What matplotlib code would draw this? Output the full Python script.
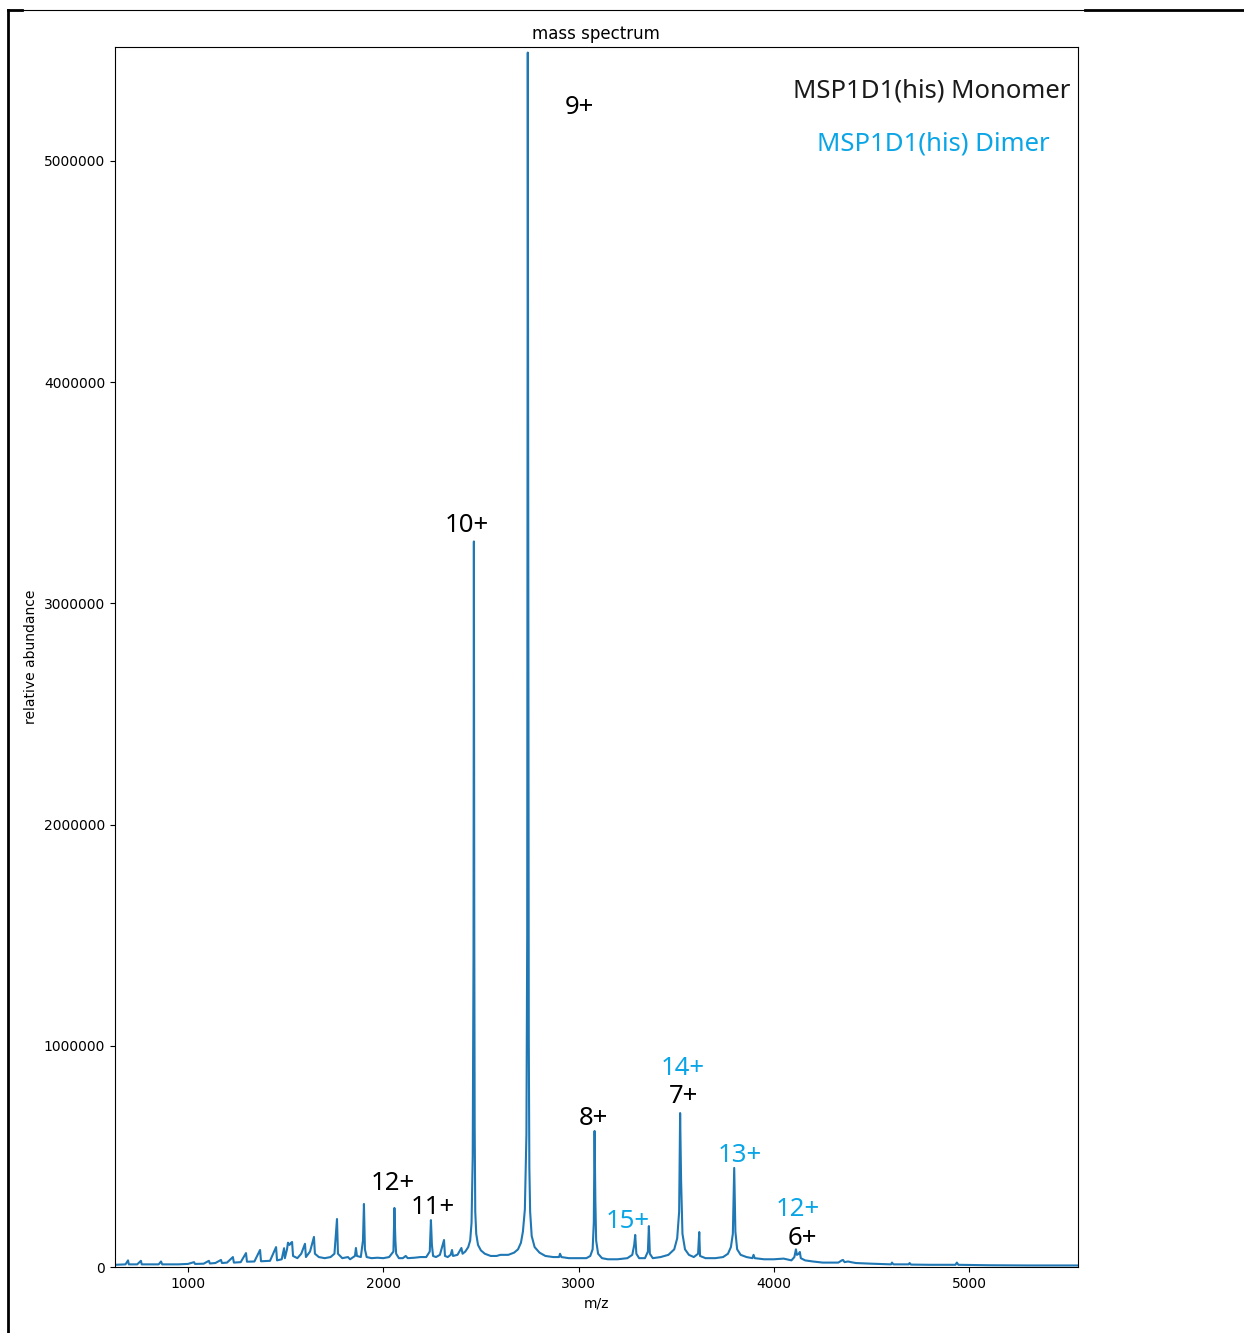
import matplotlib
matplotlib.use("Agg")
import matplotlib.pyplot as plt
from matplotlib.lines import Line2D

# spectrum trace (m/z, abundance)
mz = [626, 680, 693, 697, 740, 759, 763, 850, 862, 868, 950, 1000, 1031, 1036,
      1080, 1107, 1112, 1140, 1169, 1174, 1200, 1230, 1235, 1270, 1297, 1302,
      1340, 1369, 1374, 1420, 1451, 1456, 1480, 1492, 1496, 1507, 1512, 1520,
      1528, 1533, 1538, 1560, 1580, 1599, 1604, 1625, 1640, 1645, 1650, 1670,
      1700, 1730, 1750, 1763, 1768, 1790, 1819, 1830, 1855, 1860, 1865, 1885,
      1896, 1901, 1906, 1915, 1940, 1970, 2000, 2030, 2052, 2057, 2062, 2066,
      2080, 2100, 2115, 2125, 2160, 2190, 2220, 2238, 2244, 2249, 2255, 2270,
      2290, 2311, 2316, 2330, 2345, 2352, 2357, 2380, 2400, 2406, 2420, 2435,
      2445, 2452, 2458, 2462, 2464, 2466, 2468, 2471, 2476, 2485, 2500, 2520,
      2550, 2580, 2600, 2640, 2670, 2690, 2705, 2715, 2725, 2733, 2737, 2740,
      2743, 2745, 2748, 2752, 2760, 2775, 2800, 2830, 2870, 2900, 2905, 2912,
      2950, 3000, 3040, 3060, 3072, 3078, 3082, 3086, 3090, 3100, 3120, 3150,
      3200, 3250, 3275, 3285, 3290, 3296, 3310, 3340, 3355, 3360, 3365, 3380,
      3420, 3460, 3490, 3505, 3515, 3520, 3525, 3532, 3545, 3565, 3590, 3612,
      3618, 3622, 3650, 3700, 3740, 3765, 3780, 3790, 3797, 3803, 3812, 3830,
      3860, 3890, 3896, 3902, 3950, 4000, 4050, 4090, 4105, 4113, 4118, 4128,
      4133, 4138, 4160, 4200, 4250, 4330, 4348, 4354, 4362, 4380, 4395, 4420,
      4500, 4600, 4605, 4612, 4690, 4695, 4702, 4800, 4930, 4937, 4945, 5100,
      5300, 5557]
abundance = [10e3, 12e3, 30e3, 12e3, 12e3, 28e3, 12e3, 12e3, 25e3, 12e3, 12e3,
             14e3, 22e3, 14e3, 15e3, 28e3, 16e3, 18e3, 32e3, 18e3, 20e3, 45e3,
             20e3, 22e3, 63e3, 24e3, 25e3, 77e3, 26e3, 28e3, 90e3, 30e3, 35e3,
             85e3, 40e3, 80e3, 110e3, 100e3, 110e3, 113e3, 50e3, 40e3, 60e3,
             105e3, 45e3, 70e3, 120e3, 136e3, 60e3, 45e3, 40e3, 45e3, 60e3,
             217e3, 60e3, 40e3, 45e3, 35e3, 50e3, 86e3, 50e3, 45e3, 120e3,
             285e3, 80e3, 45e3, 40e3, 42e3, 40e3, 45e3, 70e3, 267e3, 120e3,
             60e3, 40e3, 40e3, 50e3, 40e3, 42e3, 45e3, 45e3, 70e3, 212e3,
             100e3, 50e3, 45e3, 55e3, 122e3, 50e3, 45e3, 55e3, 77e3, 50e3,
             55e3, 86e3, 60e3, 70e3, 90e3, 120e3, 200e3, 500e3, 1.4e6, 3.28e6,
             1.50e6, 640e3, 250e3, 150e3, 100e3, 75e3, 60e3, 50e3, 50e3, 55e3,
             55e3, 65e3, 80e3, 110e3, 160e3, 260e3, 600e3, 1.5e6, 5.49e6,
             2.52e6, 1.04e6, 450e3, 250e3, 140e3, 90e3, 65e3, 50e3, 45e3, 45e3,
             60e3, 45e3, 40e3, 40e3, 40e3, 50e3, 80e3, 200e3, 615e3, 300e3,
             120e3, 60e3, 40e3, 35e3, 35e3, 40e3, 55e3, 100e3, 145e3, 60e3,
             40e3, 40e3, 70e3, 185e3, 60e3, 40e3, 45e3, 55e3, 80e3, 130e3,
             250e3, 696e3, 390e3, 150e3, 80e3, 55e3, 45e3, 60e3, 158e3, 50e3,
             40e3, 40e3, 45e3, 60e3, 90e3, 150e3, 448e3, 160e3, 80e3, 55e3,
             45e3, 40e3, 55e3, 40e3, 35e3, 35e3, 38e3, 30e3, 45e3, 80e3, 55e3,
             60e3, 68e3, 40e3, 30e3, 25e3, 20e3, 20e3, 30e3, 32e3, 22e3, 25e3,
             22e3, 18e3, 15e3, 12e3, 20e3, 12e3, 12e3, 18e3, 11e3, 10e3, 10e3,
             20e3, 10e3, 8e3, 7e3, 7e3]

# charge state labels: text, m/z, abundance, colour
peak_text = ["9+", "10+", "12+", "11+", "8+", "15+", "14+", "7+", "13+", "12+", "6+"]
peak_mz = [3007, 2429, 2050, 2254, 3074, 3253, 3535, 3540, 3826, 4123, 4144]
peak_ab = [5.24e6, 3.35e6, 0.376e6, 0.267e6, 0.67e6, 0.204e6, 0.896e6,
           0.769e6, 0.502e6, 0.258e6, 0.127e6]
peak_color = ["black", "black", "black", "black", "black", "#0aa5e6",
              "#0aa5e6", "black", "#0aa5e6", "#0aa5e6", "black"]

label_font = ["Noto Sans", "DejaVu Sans"]

fig = plt.figure(figsize=(12.44, 13.33), dpi=100)
ax = fig.add_axes([0.0924, 0.0495, 0.7741, 0.9152])

ax.plot(mz, abundance)
ax.set_xlim(min(mz), max(mz))
ax.set_ylim(0, 5.515e6)
ax.ticklabel_format(axis="y", style="plain")
ax.set_title("mass spectrum")
ax.set_xlabel("m/z")
ax.set_ylabel("relative abundance")

for t, x, y, c in zip(peak_text, peak_mz, peak_ab, peak_color):
    ax.text(x, y, t, color=c, fontsize=18.5, ha="center", va="center",
            family=label_font)

ax.text(0.9917, 0.9638, "MSP1D1(his) Monomer", transform=ax.transAxes,
        ha="right", va="center", fontsize=18.5, color="#1a1a1a", family=label_font)
ax.text(0.971, 0.9205, "MSP1D1(his) Dimer", transform=ax.transAxes,
        ha="right", va="center", fontsize=18.5, color="#0aa5e6", family=label_font)

# page frame along the left and top edges
W, H = 1244, 1333
fig.add_artist(Line2D([8 / W, 8 / W], [0, 1 - 10 / H], color="black", lw=2.0,
                      transform=fig.transFigure))
fig.add_artist(Line2D([8 / W, 22 / W], [1 - 10 / H] * 2, color="black", lw=2.0,
                      transform=fig.transFigure))
fig.add_artist(Line2D([22 / W, 1085 / W], [1 - 10 / H] * 2, color="black", lw=0.8,
                      transform=fig.transFigure))
fig.add_artist(Line2D([1085 / W, 1], [1 - 10 / H] * 2, color="black", lw=2.0,
                      transform=fig.transFigure))

fig.savefig("out.png", dpi=100)
